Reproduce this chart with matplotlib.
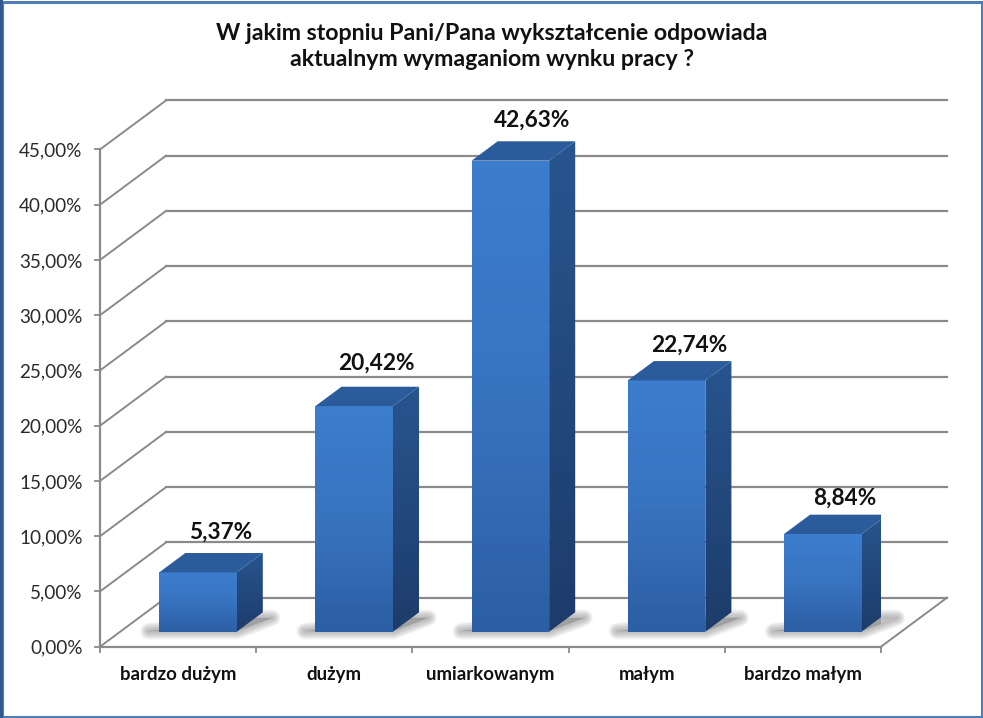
import numpy as np
import matplotlib
matplotlib.use("Agg")
import matplotlib.pyplot as plt
from matplotlib.colors import LinearSegmentedColormap
from matplotlib.patches import Polygon, Rectangle

categories = ["bardzo dużym", "dużym", "umiarkowanym", "małym", "bardzo małym"]
values = [5.37, 20.42, 42.63, 22.74, 8.84]
y_ticks = [0, 5, 10, 15, 20, 25, 30, 35, 40, 45]
title = "W jakim stopniu Pani/Pana wykształcenie odpowiada\naktualnym wymaganiom wynku pracy ?"

# gap between bar top and its label, px
label_gaps = [21, 24, 21, 16, 16]

W, H = 983, 718
GREY = "#8a8a8a"
PX_PER_CAT = 156.2
PX_PER_PCT = 11.05

# depth of the fake 3d box, in data units
depth_x = 66 / PX_PER_CAT
depth_y = 49 / PX_PER_PCT
bar_w = 77.5 / PX_PER_CAT
bar_depth = 0.395
bar_front = 0.306

plt.rcParams["font.family"] = ["Lato", "DejaVu Sans"]

fig = plt.figure(figsize=(W / 100, H / 100), dpi=100, facecolor="white")
# y range runs past 45 so the bar tops are not clipped
ax = fig.add_axes([100 / W, 1 - 646.7 / H, 781 / W, 50 * PX_PER_PCT / H])
ax.set_xlim(0, 5)
ax.set_ylim(0, 50)
for s in ax.spines.values():
    s.set_visible(False)
ax.patch.set_visible(False)

# walls and floor
top = y_ticks[-1]
for t in y_ticks:
    ax.plot([0, depth_x], [t, t + depth_y], color=GREY, lw=1.4, clip_on=False, zorder=1)
    ax.plot([depth_x, 5 + depth_x], [t + depth_y] * 2, color=GREY, lw=1.6, clip_on=False, zorder=1)
ax.plot([0, 0], [0, top], color=GREY, lw=1.6, clip_on=False, zorder=2)
ax.plot([0, 5], [0, 0], color=GREY, lw=1.6, clip_on=False, zorder=2)
ax.plot([5, 5 + depth_x], [0, depth_y], color=GREY, lw=1.4, clip_on=False, zorder=2)

ax.set_xticks(np.arange(6))
ax.set_xticklabels([])
ax.set_yticks(y_ticks)
ax.set_yticklabels([f"{t:.2f}%".replace(".", ",") for t in y_ticks], fontsize=13.6, color="#2a2a2a")
ax.tick_params(axis="both", length=4.5, width=1.3, color=GREY)
ax.tick_params(axis="y", pad=8)

for i, name in enumerate(categories):
    ax.text(i + 0.5, -2.55, name, ha="center", va="center", fontsize=13.4,
            fontweight="bold", color="#111111")

front_map = LinearSegmentedColormap.from_list("front", ["#2c5fa3", "#3873c0", "#3c7dce"])
side_map = LinearSegmentedColormap.from_list("side", ["#1d3c6b", "#28558f"])


def gradient_fill(poly, cmap, extent, zorder):
    grad = np.linspace(0, 1, 64).reshape(-1, 1)
    im = ax.imshow(grad, cmap=cmap, extent=extent, origin="lower", aspect="auto", zorder=zorder)
    patch = Polygon(poly, closed=True, transform=ax.transData, fc="none", ec="none")
    ax.add_patch(patch)
    im.set_clip_path(patch)


for i, v in enumerate(values):
    x0 = i + 0.5 - bar_w / 2 + bar_front * depth_x - 0.002
    x1 = x0 + bar_w
    y0 = bar_front * depth_y
    y1 = y0 + v
    dx = bar_depth * depth_x
    dy = bar_depth * depth_y

    # soft shadow on the floor, stack of thin transparent strokes
    shadow = [(x0 - 0.07, y0 + 0.05), (x1, y0 + 0.05),
              (x1 + dx + 0.06, y0 + dy - 0.5), (x1 + dx - 0.03, y0 + dy - 0.5)]
    for lw in np.arange(1, 13):
        ax.add_patch(Polygon(shadow, closed=True, fc="none", ec="#777777", lw=lw, alpha=0.05,
                             joinstyle="round", zorder=3, clip_on=False))
    ax.add_patch(Polygon(shadow, closed=True, fc="#777777", ec="none", alpha=0.45, zorder=3))

    gradient_fill([(x0, y0), (x1, y0), (x1, y1), (x0, y1)], front_map, (x0, x1, y0, y1), 5)
    gradient_fill([(x1, y0), (x1 + dx, y0 + dy), (x1 + dx, y1 + dy), (x1, y1)], side_map,
                  (x1, x1 + dx, y0, y1 + dy), 5)
    ax.add_patch(Polygon([(x0, y1), (x1, y1), (x1 + dx, y1 + dy), (x0 + dx, y1 + dy)],
                         closed=True, fc="#2b5b9a", ec="none", zorder=5))

    ax.text(x0 + 61 / PX_PER_CAT, y1 + dy + label_gaps[i] / PX_PER_PCT, f"{v:.2f}%".replace(".", ","),
            ha="center", va="center", fontsize=16.3, fontweight="bold", color="#111111", zorder=6)

ax.set_xlim(0, 5)
ax.set_ylim(0, 50)

fig.text(491.5 / W, 1 - 46.5 / H, title, ha="center", va="center", fontsize=16.65, fontweight="bold",
         color="#111111", linespacing=1.32)

# frame of the picture
fig.add_artist(Rectangle((1.5 / W, 1.5 / H), (W - 3) / W, (H - 3) / H, transform=fig.transFigure,
                         fill=False, ec="#4f7db8", lw=2.2))
fig.add_artist(Rectangle((0, 0), 2.5 / W, 1, transform=fig.transFigure, fc="#2f5a94", ec="none"))

fig.savefig("out.png", dpi=100, facecolor="white")
